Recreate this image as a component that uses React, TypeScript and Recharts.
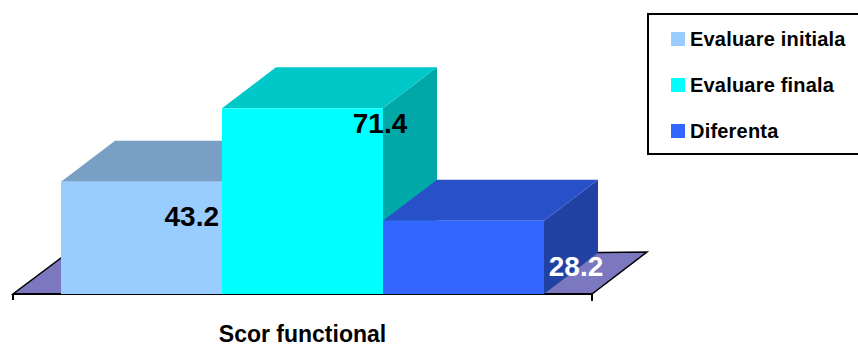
import React from "react";
import { Bar, BarChart, LabelList, XAxis, YAxis } from "recharts";

const categories = ["Scor functional"];
const initiala = [43.2];
const finala = [71.4];
const diferenta = [28.2];

const seriesNames = ["Evaluare initiala", "Evaluare finala", "Diferenta"];

const data = categories.map((name, i) => ({
  name,
  initiala: initiala[i],
  finala: finala[i],
  diferenta: diferenta[i],
}));

const FONT = "'Liberation Sans', Arial, sans-serif";
const GAP = 48;
const DX = 54;
const DY = 41;

const palette = [
  { front: "#99CCFF", top: "#7A9FC4", side: "#6F8FB3" },
  { front: "#00FFFF", top: "#00C8C8", side: "#00A8A8" },
  { front: "#3366FF", top: "#2850C8", side: "#2142A3" },
];

function Box3D(props: any) {
  const { x, y, width, height, colors, withFloor } = props;
  const bottom = y + height;
  const floor = withFloor ? (() => {
    const fl = x - GAP;
    const fr = x + width * 3 + GAP;
    const pts = `${fl},${bottom} ${fr},${bottom} ${fr + 55},${bottom - 42} ${fl + 48},${bottom - 36}`;
    return (
      <g>
        <polygon points={pts} fill="#7B78C0" stroke="#000" strokeWidth={1.5} strokeLinejoin="miter" />
        <line x1={fl} y1={bottom} x2={fr} y2={bottom} stroke="#000" strokeWidth={2} />
        <line x1={fl} y1={bottom} x2={fl} y2={bottom + 6} stroke="#000" strokeWidth={2} />
        <line x1={fr} y1={bottom} x2={fr} y2={bottom + 7} stroke="#000" strokeWidth={2} />
      </g>
    );
  })() : null;
  return (
    <g>
      {floor}
      <polygon
        points={`${x + width},${y} ${x + width + DX},${y - DY} ${x + width + DX},${bottom - DY} ${x + width},${bottom}`}
        fill={colors.side}
      />
      <polygon
        points={`${x},${y} ${x + DX},${y - DY} ${x + width + DX},${y - DY} ${x + width},${y}`}
        fill={colors.top}
      />
      <rect x={x} y={y} width={width} height={height} fill={colors.front} />
    </g>
  );
}

function makeLabel(dx: number, dy: number, fill: string, anchor: string, fromBottom = false) {
  return (p: any) => {
    const tx = p.x + p.width + dx;
    const ty = fromBottom ? p.y + p.height + dy : p.y + dy;
    return (
      <text x={tx} y={ty} textAnchor={anchor} fill={fill} fontFamily={FONT} fontWeight={700} fontSize={28}>
        {p.value}
      </text>
    );
  };
}

function LegendBox() {
  return (
    <div
      style={{
        position: "absolute",
        left: 647,
        top: 13,
        width: 215,
        height: 138,
        border: "2px solid #000",
        background: "#fff",
      }}
    >
      {seriesNames.map((n, i) => (
        <div
          key={n}
          style={{ position: "absolute", left: 22, top: 11 + i * 46, display: "flex", alignItems: "center", height: 26 }}
        >
          <span style={{ width: 14, height: 14, background: palette[i].front, display: "inline-block", marginRight: 5 }} />
          <span
            style={{
              fontFamily: FONT,
              fontWeight: 700,
              fontSize: 20,
              letterSpacing: 0.2,
              color: "#000",
              whiteSpace: "nowrap",
            }}
          >
            {n}
          </span>
        </div>
      ))}
    </div>
  );
}

export default function App() {
  return (
    <div style={{ position: "absolute", left: 0, top: 0, width: 858, height: 347, overflow: "hidden", background: "#fff" }}>
      <BarChart
        width={858}
        height={347}
        data={data}
        margin={{ top: 86, right: 266, left: 13, bottom: 0 }}
        barCategoryGap={GAP}
        barGap={0}
      >
        <XAxis
          dataKey="name"
          axisLine={false}
          tickLine={false}
          height={53}
          tick={{ fill: "#000", fontFamily: FONT, fontWeight: 700, fontSize: 23 }}
          dy={24}
        />
        <YAxis hide domain={[0, 80]} />
        <Bar
          dataKey="initiala"
          name={seriesNames[0]}
          isAnimationActive={false}
          shape={(p: any) => <Box3D {...p} colors={palette[0]} withFloor />}
        >
          <LabelList dataKey="initiala" content={makeLabel(-3, 44, "#000", "end")} />
        </Bar>
        <Bar
          dataKey="finala"
          name={seriesNames[1]}
          isAnimationActive={false}
          shape={(p: any) => <Box3D {...p} colors={palette[1]} />}
        >
          <LabelList dataKey="finala" content={makeLabel(-3, 25, "#000", "middle")} />
        </Bar>
        <Bar
          dataKey="diferenta"
          name={seriesNames[2]}
          isAnimationActive={false}
          shape={(p: any) => <Box3D {...p} colors={palette[2]} />}
        >
          <LabelList dataKey="diferenta" content={makeLabel(32, -18, "#fff", "middle", true)} />
        </Bar>
      </BarChart>
      <LegendBox />
    </div>
  );
}
